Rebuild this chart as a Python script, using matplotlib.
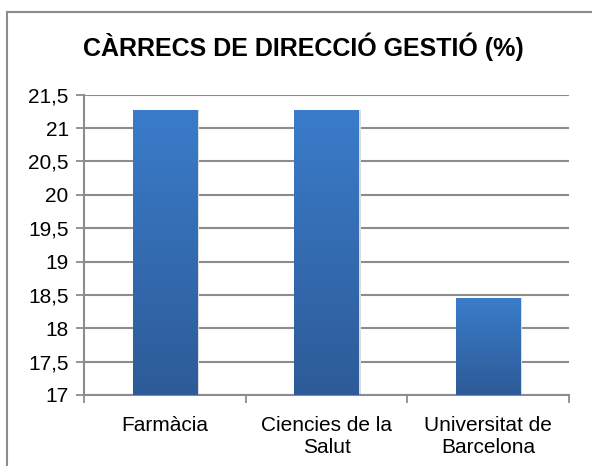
import numpy as np
import matplotlib
matplotlib.use('Agg')
import matplotlib.pyplot as plt
from matplotlib.colors import LinearSegmentedColormap
from matplotlib.lines import Line2D

categories = ['Farmàcia', 'Ciencies de la\nSalut', 'Universitat de\nBarcelona']
values = [21.27, 21.27, 18.45]
y_ticks = [17, 17.5, 18, 18.5, 19, 19.5, 20, 20.5, 21, 21.5]
title = 'CÀRRECS DE DIRECCIÓ GESTIÓ (%)'

plt.rcParams['font.family'] = ['Liberation Sans', 'DejaVu Sans']

fig = plt.figure(figsize=(5.92, 4.66), dpi=100)
ax = fig.add_axes([0.1419, 0.1524, 0.8192, 0.6444])

x = np.arange(len(categories))
bars = ax.bar(x, values, width=0.4, bottom=0, color='none', zorder=3)

# vertical gradient fill, lighter on top
cmap = LinearSegmentedColormap.from_list('bar', ['#2d5b97', '#3a7cca'])
grad = np.linspace(0, 1, 256).reshape(-1, 1)
for b in bars:
    x0, w, h = b.get_x(), b.get_width(), b.get_height()
    # soft shadow
    ax.bar(x0 + w / 2 + 0.012, h - 17 + 0.02, width=w, bottom=17 - 0.02,
           color='#dcdcdc', zorder=2, linewidth=0)
    ax.imshow(grad, extent=(x0, x0 + w, 17, h), origin='lower', cmap=cmap,
              aspect='auto', zorder=3, interpolation='bicubic')

ax.set_xlim(-0.5, len(categories) - 0.5)
ax.set_ylim(17, 21.5)
ax.set_yticks(y_ticks)
ax.set_yticklabels([('%g' % t).replace('.', ',') for t in y_ticks])
ax.set_xticks(np.arange(len(categories) + 1) - 0.5, minor=False)
ax.set_xticklabels([])
ax.set_xticks(x, minor=True)
ax.set_xticklabels(categories, minor=True)
ax.tick_params(axis='x', which='minor', length=0, pad=15, labelsize=15)
ax.tick_params(axis='x', which='major', length=6, color='#8c8c8c', width=1.3)
ax.tick_params(axis='y', length=6, color='#8c8c8c', width=1.3, labelsize=15, pad=5)

ax.yaxis.grid(True, color='#8c8c8c', linewidth=1.5, zorder=1)
ax.set_axisbelow(True)
for s in ['top', 'right']:
    ax.spines[s].set_visible(False)
for s in ['left', 'bottom']:
    ax.spines[s].set_color('#8c8c8c')
    ax.spines[s].set_linewidth(1.5)

fig.text(0.513, 0.9, title, ha='center', va='center', fontsize=18, fontweight='bold')

# chart area frame (top and left edges visible)
fig.add_artist(Line2D([7 / 592, 1], [1 - 12 / 466, 1 - 12 / 466], color='#8c8c8c', lw=1.5))
fig.add_artist(Line2D([7 / 592, 7 / 592], [0, 1 - 12 / 466], color='#8c8c8c', lw=1.5))

fig.savefig('out.png', dpi=100)
